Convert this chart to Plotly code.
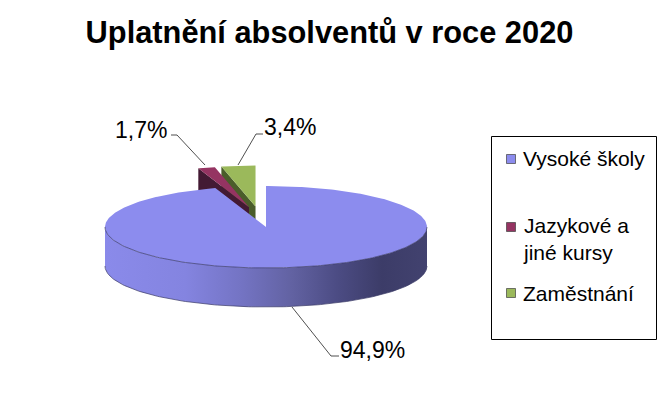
import numpy as np
import plotly.graph_objects as go

TITLE = "Uplatnění absolventů v roce 2020"
categories = ["Vysoké školy", "Jazykové a<br>jiné kursy", "Zaměstnání"]
values = [94.9, 1.7, 3.4]
value_labels = ["94,9%", "1,7%", "3,4%"]

top_colors = ["#8C8CEE", "#953462", "#9BB95B"]
cut_colors = ["#46467A", "#431A33", "#4A5D2A"]
explode = [(0.0, 0.0), (0.40, 0.50), (0.61, 0.50)]

CX, CY, RX, RY, DEPTH = 266.0, 227.0, 161.0, 41.0, 39.0
FONT = "Liberation Sans, Arial, sans-serif"
PAGE_INSET = 8  # the page's body margin pushes the plot this far right and down


def arc(t0, t1, ox=0.0, oy=0.0, n=160):
    t = np.radians(np.linspace(t0, t1, n))
    return CX + ox + RX * np.sin(t), CY + oy - RY * np.cos(t)


fig = go.Figure()


def poly(x, y, color, **kw):
    fig.add_trace(go.Scatter(x=list(x), y=list(y), mode="lines", fill="toself",
                             fillcolor=color, line=dict(width=0), hoverinfo="skip",
                             showlegend=False, **kw))


edges = np.concatenate([[0], np.cumsum(values)]) * 3.6
spans = list(zip(edges[:-1], edges[1:]))
offsets = []
for (t0, t1), (kx, ky) in zip(spans, explode):
    mid = np.radians((t0 + t1) / 2)
    offsets.append((kx * RX * np.sin(mid), -ky * RY * np.cos(mid)))

# Exploded slices, back to front: cut face first, then the top face.
for i in [2, 1]:
    t0, t1 = spans[i]
    ox, oy = offsets[i]
    ax, ay = CX + ox, CY + oy
    ex, ey = arc(t0, t0, ox, oy, 2)
    poly([ax, ex[0], ex[0], ax, ax], [ay, ey[0], ey[0] + DEPTH, ay + DEPTH, ay], cut_colors[i])
    x, y = arc(t0, t1, ox, oy)
    poly(np.r_[ax, x, ax], np.r_[ay, y, ay], top_colors[i])

# Main slice: front wall with a horizontal gradient, then the top face.
x, y = arc(90, 270)
fig.add_trace(go.Scatter(
    x=np.r_[x, x[::-1], x[0]], y=np.r_[y, y[::-1] + DEPTH, y[0]], mode="lines", fill="toself",
    line=dict(width=0), hoverinfo="skip", showlegend=False,
    fillgradient=dict(type="horizontal", colorscale=[
        [0.0, "#8A8AEA"], [0.25, "#8484E0"], [0.42, "#7474C4"], [0.58, "#6262A2"],
        [0.72, "#4C4C84"], [0.86, "#3C3C68"], [1.0, "#42426F"]])))
t0, t1 = spans[0]
x, y = arc(t0, t1, n=400)
poly(np.r_[CX, x, CX], np.r_[CY, y, CY], top_colors[0])
x, y = arc(90, 270)
for dy in (0, DEPTH):
    fig.add_trace(go.Scatter(x=x, y=y + dy, mode="lines", line=dict(color="#3A3A66", width=0.7),
                             hoverinfo="skip", showlegend=False))

# Leader lines and percent labels
leaders = [([292, 331, 339], [307, 356, 356]),
           ([205, 177, 171], [165, 135, 135]),
           ([238, 256, 263], [165, 134, 134])]
label_pos = [(372.5, 350), (140.5, 130), (290, 127)]
for (lx, ly), (tx, ty), s in zip(leaders, label_pos, value_labels):
    fig.add_trace(go.Scatter(x=lx, y=ly, mode="lines", line=dict(color="#222222", width=0.8),
                             hoverinfo="skip", showlegend=False))
    fig.add_annotation(x=tx, y=ty, text=s, showarrow=False,
                       font=dict(family=FONT, size=23, color="#000000"))

# Legend box
fig.add_shape(type="rect", x0=491.5, x1=656.5, y0=136.5, y1=339.5,
              line=dict(color="#000000", width=1), fillcolor="#FFFFFF", layer="below")
legend_y = [159, 227, 293]
fig.add_trace(go.Scatter(x=[511] * 3, y=legend_y, mode="markers", hoverinfo="skip", showlegend=False,
                         marker=dict(symbol="square", size=9, color=top_colors,
                                     line=dict(color="#404040", width=0.7))))
for name, ly in zip(categories, [158.5, 239, 293]):
    fig.add_annotation(x=521, y=ly, text=name, showarrow=False, xanchor="left", align="left",
                       font=dict(family=FONT, size=21, color="#000000"))

fig.update_layout(
    width=672, height=409, autosize=False, margin=dict(l=0, r=0, t=0, b=0),
    paper_bgcolor="#FFFFFF", plot_bgcolor="#FFFFFF", showlegend=False,
    title=dict(text="<b>" + TITLE + "</b>", x=(329.5 - PAGE_INSET) / 672, xanchor="center",
               y=1 - (32 - PAGE_INSET) / 409, yanchor="middle",
               font=dict(family=FONT, size=30.8, color="#000000")),
    xaxis=dict(range=[PAGE_INSET, 672 + PAGE_INSET], visible=False, fixedrange=True),
    yaxis=dict(range=[409 + PAGE_INSET, PAGE_INSET], visible=False, fixedrange=True),
)
fig.write_html("out.html", config=dict(displayModeBar=False))
